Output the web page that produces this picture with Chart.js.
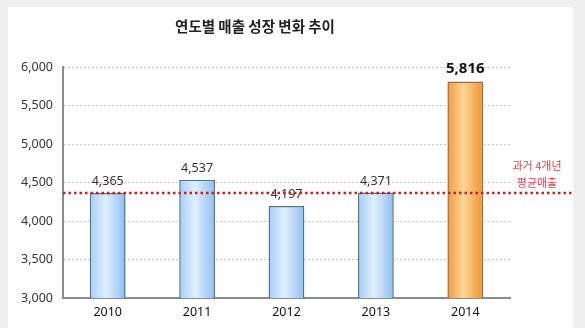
<!DOCTYPE html>
<html lang="ko">
<head>
<meta charset="utf-8">
<title>연도별 매출 성장 변화 추이</title>
<script src="https://cdn.jsdelivr.net/npm/chart.js@4/dist/chart.umd.min.js"></script>
<style>
    html, body { margin: 0; padding: 0; background: #efefef; }
    .wrap { position: relative; width: 585px; height: 328px; overflow: hidden; }
    .panel { position: absolute; left: 8px; top: 7px; width: 565px; height: 330px; background: #fff; }
    #salesChart { position: absolute; left: 0; top: 0; }
</style>
</head>
<body>
<div class="wrap">
    <div class="panel"></div>
    <canvas id="salesChart" width="585" height="328"></canvas>
</div>
<script>
// 연도별 매출
const years = ['2010', '2011', '2012', '2013', '2014'];
const sales = [4365, 4537, 4197, 4371, 5816];
const yTicks = [3000, 3500, 4000, 4500, 5000, 5500, 6000];

// 과거 4개년 평균 (2010~2013)
const pastYears = sales.slice(0, 4);
const pastAverage = pastYears.reduce((a, b) => a + b, 0) / pastYears.length;

const numFont = "'Noto Sans', 'Noto Sans CJK KR', sans-serif";
const krFont = "'Noto Sans CJK KR', 'Noto Sans', sans-serif";

const barPct = 0.4;

function barGradient(context) {
    const last = context.dataIndex === years.length - 1;
    const chart = context.chart;
    const xScale = chart.scales.x;
    const cx = xScale ? xScale.getPixelForValue(context.dataIndex) : NaN;
    const w = xScale ? (xScale.width / years.length) * barPct : NaN;
    if (!isFinite(cx) || !isFinite(w) || w <= 0) return last ? '#f7b060' : '#bcdcfb';
    const g = chart.ctx.createLinearGradient(cx - w / 2, 0, cx + w / 2, 0);
    if (last) {
        g.addColorStop(0, '#f09a42');
        g.addColorStop(0.45, '#ffd596');
        g.addColorStop(1, '#ef9233');
    } else {
        g.addColorStop(0, '#a6cdf6');
        g.addColorStop(0.45, '#e0efff');
        g.addColorStop(1, '#8ebdf0');
    }
    return g;
}

// 막대 위 값 표시
const valueLabels = {
    id: 'valueLabels',
    afterDatasetsDraw(chart) {
        const ctx = chart.ctx;
        const meta = chart.getDatasetMeta(0);
        ctx.save();
        ctx.textAlign = 'center';
        ctx.textBaseline = 'bottom';
        meta.data.forEach((bar, i) => {
            const last = i === sales.length - 1;
            ctx.font = last ? 'bold 15px ' + numFont : '12.5px ' + numFont;
            ctx.fillStyle = last ? '#111' : '#333';
            ctx.fillText(sales[i].toLocaleString('en-US'), bar.x, bar.y - 5);
        });
        ctx.restore();
    }
};

// 평균선과 설명
const averageLine = {
    id: 'averageLine',
    afterDatasetsDraw(chart) {
        const ctx = chart.ctx;
        const area = chart.chartArea;
        const y = chart.scales.y.getPixelForValue(pastAverage);
        ctx.save();
        ctx.strokeStyle = '#b02a2c';
        ctx.lineWidth = 2.5;
        ctx.setLineDash([2.5, 3]);
        ctx.beginPath();
        ctx.moveTo(area.left, y);
        ctx.lineTo(area.right + 62, y);
        ctx.stroke();
        ctx.fillStyle = '#d9474d';
        ctx.font = '11px ' + krFont;
        ctx.textAlign = 'center';
        ctx.textBaseline = 'middle';
        const cx = area.right + 27;
        ctx.fillText('과거 4개년', cx, y - 27);
        ctx.fillText('평균매출', cx, y - 10);
        ctx.restore();
    }
};

new Chart(document.getElementById('salesChart'), {
    type: 'bar',
    data: {
        labels: years,
        datasets: [{
            data: sales,
            backgroundColor: barGradient,
            borderColor: (c) => c.dataIndex === years.length - 1 ? '#a8692c' : '#50708f',
            borderWidth: 1.5,
            barPercentage: barPct,
            categoryPercentage: 1
        }]
    },
    options: {
        responsive: false,
        animation: false,
        layout: { padding: { left: 0, right: 75, top: 0, bottom: 0 } },
        plugins: {
            legend: { display: false },
            tooltip: { enabled: false },
            title: {
                display: true,
                text: '연도별 매출 성장 변화 추이',
                color: '#222',
                font: { family: krFont, size: 14.5, weight: 'bold', lineHeight: 1.2 },
                padding: { top: 18, bottom: 32 }
            }
        },
        scales: {
            x: {
                grid: { display: false, drawTicks: false },
                border: { color: '#8c8c8c', width: 2 },
                ticks: { color: '#111', padding: 7, font: { family: numFont, size: 12.5 } },
                afterFit(scale) { scale.height = 30; }
            },
            y: {
                min: 3000,
                max: 6000,
                afterBuildTicks(scale) { scale.ticks = yTicks.map(v => ({ value: v })); },
                grid: {
                    color: (c) => c.tick && c.tick.value === 3000 ? 'rgba(0,0,0,0)' : '#c8c8c8',
                    lineWidth: 1,
                    drawTicks: false
                },
                // 격자선 점선
                border: { color: '#8c8c8c', width: 2, dash: [2, 2] },
                ticks: {
                    color: '#333',
                    padding: 10,
                    font: { family: numFont, size: 12.5 },
                    callback: (v) => v.toLocaleString('en-US')
                },
                afterFit(scale) { scale.width = 63; }
            }
        }
    },
    plugins: [valueLabels, averageLine]
});
</script>
</body>
</html>
